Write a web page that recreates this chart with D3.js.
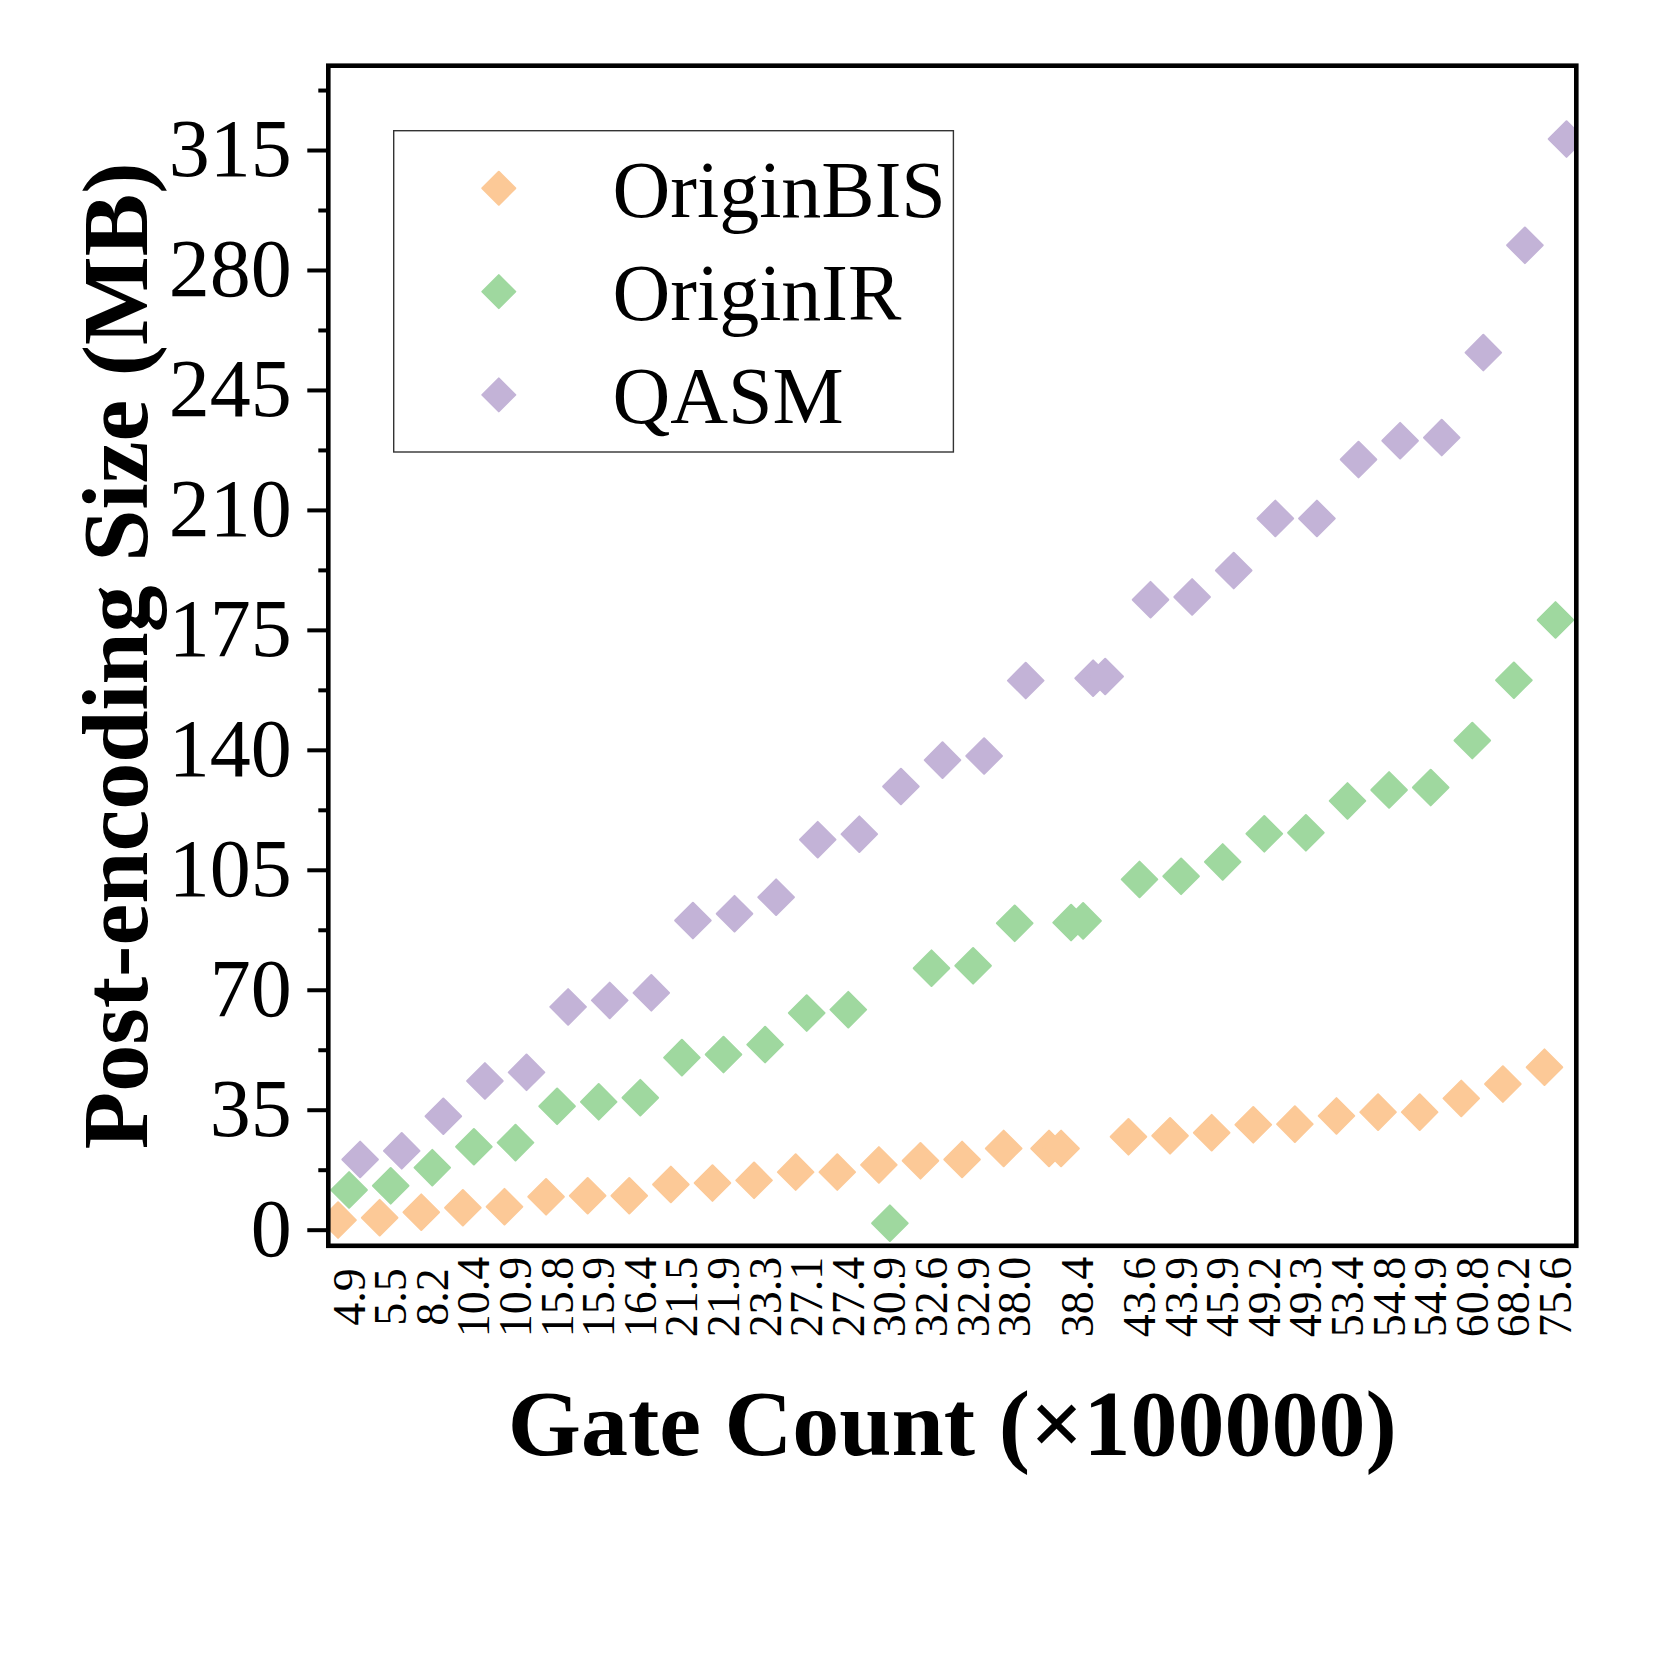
<!DOCTYPE html>
<html>
<head>
<meta charset="utf-8">
<script src="https://cdn.jsdelivr.net/npm/d3@7"></script>
<style>
  html, body { margin: 0; padding: 0; background: #ffffff; }
  svg { display: block; }
</style>
</head>
<body>
<svg id="chart" width="1667" height="1667"></svg>
<script>
// ---------------- data ----------------
const gateCounts = ["4.9","5.5","8.2","10.4","10.9","15.8","15.9","16.4","21.5","21.9",
  "23.3","27.1","27.4","30.9","32.6","32.9","38.0","38.4","38.4","43.6",
  "43.9","45.9","49.2","49.3","53.4","54.8","54.9","60.8","68.2","75.6"];

const originBIS = [2.8, 3.5, 5.1, 6.4, 6.7, 9.6, 9.9, 9.9, 13.2, 13.6,
  14.4, 16.8, 16.8, 18.9, 20.1, 20.5, 23.7, 23.7, 23.7, 27.1,
  27.4, 28.3, 30.6, 30.8, 33.2, 34.3, 34.3, 38.3, 42.5, 47.4];

const originIR = [11.6, 12.8, 18.1, 24.2, 25.4, 36.0, 37.3, 38.5, 50.2, 51.1,
  54.0, 63.2, 64.2, 1.9, 76.3, 77.0, 89.4, 89.6, 90.1, 102.2,
  103.1, 107.3, 115.5, 115.8, 125.1, 128.3, 129.0, 142.7, 160.3, 177.9];

const qasm = [20.5, 23.0, 33.1, 43.4, 45.9, 65.0, 66.9, 69.1, 90.2, 92.2,
  97.0, 113.8, 115.4, 129.3, 137.0, 138.2, 160.2, 160.9, 161.4, 183.8,
  184.6, 192.3, 207.5, 207.5, 224.7, 230.2, 231.1, 255.9, 287.2, 318.2];

const seriesNames = ["OriginBIS", "OriginIR", "QASM"];
const seriesColors = ["#fcc997", "#9fd89f", "#c3b3d7"];
const yTickValues = [0, 35, 70, 105, 140, 175, 210, 245, 280, 315];
const xTitle = "Gate Count (\u00d7100000)";
const yTitle = "Post-encoding Size (MB)";

// ---------------- layout ----------------
const plot = { left: 328.3, right: 1576.3, top: 65.7, bottom: 1245.8 };
const dodge = 0.265;       // series offset in slot units
const dupSpread = 0.29;    // spread of duplicated categories
const serif = "'Liberation Serif', 'Times New Roman', Times, serif";

const svg = d3.select("#chart");
svg.append("rect").attr("width", 1667).attr("height", 1667).attr("fill", "#fff");

svg.append("defs").append("clipPath").attr("id", "plotClip")
  .append("rect")
  .attr("x", plot.left).attr("y", plot.top)
  .attr("width", plot.right - plot.left).attr("height", plot.bottom - plot.top);

// group duplicate labels into a shared slot
const groups = new Map();
gateCounts.forEach((g, i) => {
  if (!groups.has(g)) groups.set(g, []);
  groups.get(g).push(i);
});
const slotInfo = gateCounts.map((g, i) => {
  const idx = groups.get(g);
  return { slot: d3.mean(idx), n: idx.length, k: idx.indexOf(i) };
});

const x = d3.scaleLinear().domain([-0.5, gateCounts.length - 0.5]).range([plot.left, plot.right]);
const y = d3.scaleLinear().domain([-4.7, 339.6]).range([plot.bottom, plot.top]);

// ---------------- y axis ticks ----------------
const minorTicks = d3.range(0, 340, 17.5).filter(v => yTickValues.indexOf(v) < 0);
const gMinor = svg.append("g").attr("transform", `translate(${plot.left},0)`)
  .call(d3.axisLeft(y).tickValues(minorTicks).tickSize(10).tickFormat(""));
gMinor.select(".domain").remove();
gMinor.selectAll("line").attr("stroke", "#000").attr("stroke-width", 4);

const gMajor = svg.append("g").attr("transform", `translate(${plot.left},0)`)
  .call(d3.axisLeft(y).tickValues(yTickValues).tickSize(21).tickFormat(d3.format("d")));
gMajor.select(".domain").remove();
gMajor.selectAll("line").attr("stroke", "#000").attr("stroke-width", 4);
gMajor.selectAll("text")
  .attr("x", -36.5).attr("dy", null).attr("y", 25.5)
  .attr("text-anchor", "end")
  .attr("font-family", serif).attr("font-size", 82).attr("fill", "#000");

// ---------------- x tick labels (rotated) ----------------
const xFont = 46;
const uniqueLabels = Array.from(groups.keys());
svg.append("g").selectAll("text").data(uniqueLabels).join("text")
  .attr("transform", d => `translate(${x(d3.mean(groups.get(d))) + 0.338 * xFont},1297) rotate(-90)`)
  .attr("text-anchor", "middle")
  .attr("font-family", serif).attr("font-size", xFont).attr("fill", "#000")
  .text(d => d);

// ---------------- markers ----------------
const diamond = r => `M0,${-r}L${r},0L0,${r}L${-r},0Z`;
const allSeries = [originBIS, originIR, qasm];
const markLayer = svg.append("g").attr("clip-path", "url(#plotClip)");
allSeries.forEach((vals, s) => {
  const so = (s - 1) * dodge;
  markLayer.append("g").selectAll("path").data(vals).join("path")
    .attr("d", diamond(17.8))
    .attr("transform", (v, i) => {
      const info = slotInfo[i];
      const xs = info.slot + so * info.n + (info.k - (info.n - 1) / 2) * (info.n > 1 ? dupSpread : 0);
      return `translate(${x(xs)},${y(v)})`;
    })
    .attr("fill", seriesColors[s])
    .attr("stroke", seriesColors[s]).attr("stroke-width", 2).attr("stroke-linejoin", "round");
});

// ---------------- frame ----------------
svg.append("rect")
  .attr("x", plot.left).attr("y", plot.top)
  .attr("width", plot.right - plot.left).attr("height", plot.bottom - plot.top)
  .attr("fill", "none").attr("stroke", "#000").attr("stroke-width", 4.6);

// ---------------- legend ----------------
const legend = svg.append("g");
legend.append("rect")
  .attr("x", 393.7).attr("y", 130.7).attr("width", 559.7).attr("height", 321.3)
  .attr("fill", "#fff").attr("stroke", "#333").attr("stroke-width", 1.4);
seriesNames.forEach((name, s) => {
  const cy = 188.3 + s * 103.3;
  legend.append("path").attr("d", diamond(16.5))
    .attr("transform", `translate(498.8,${cy})`)
    .attr("fill", seriesColors[s]).attr("stroke", seriesColors[s])
    .attr("stroke-width", 2).attr("stroke-linejoin", "round");
  legend.append("text").attr("x", 612.5).attr("y", cy + 28.3)
    .attr("font-family", serif).attr("font-size", 80).attr("fill", "#000")
    .text(name);
});

// ---------------- axis titles ----------------
svg.append("text")
  .attr("x", (plot.left + plot.right) / 2).attr("y", 1455)
  .attr("text-anchor", "middle")
  .attr("font-family", serif).attr("font-weight", "bold").attr("font-size", 94)
  .attr("fill", "#000").text(xTitle);

svg.append("text")
  .attr("transform", `translate(147,${(plot.top + plot.bottom) / 2}) rotate(-90)`)
  .attr("text-anchor", "middle")
  .attr("font-family", serif).attr("font-weight", "bold").attr("font-size", 94)
  .attr("fill", "#000").text(yTitle);
</script>
</body>
</html>
